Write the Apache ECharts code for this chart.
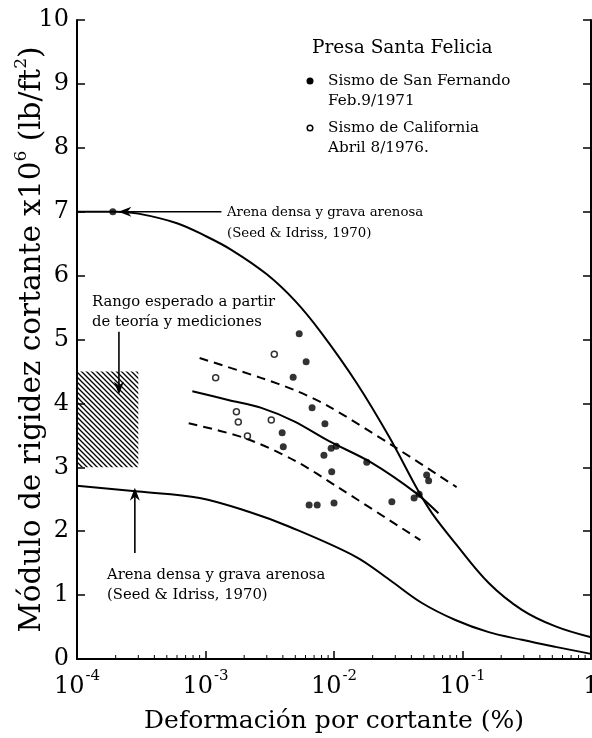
<!DOCTYPE html>
<html>
<head>
<meta charset="utf-8">
<script src="https://cdn.jsdelivr.net/npm/echarts@6/dist/echarts.min.js"></script>
<style>
  html, body { margin: 0; padding: 0; background: #fff; }
  #chart { width: 592px; height: 738px; }
</style>
</head>
<body>
<div id="chart"></div>
<script>
// Shear strain (%) vs shear modulus x10^6 (lb/ft^2) — Presa Santa Felicia

// Seed & Idriss (1970), dense sand and sandy gravel: upper bound
const upperBound = [
  [1e-4, 7.0], [2e-4, 7.0], [3e-4, 6.97], [6e-4, 6.82], [1e-3, 6.62],
  [1.6e-3, 6.4], [3e-3, 6.02], [5e-3, 5.6], [8e-3, 5.1], [1.5e-2, 4.32],
  [2.7e-2, 3.47], [4.5e-2, 2.64], [5.8e-2, 2.28], [8.8e-2, 1.81],
  [0.16, 1.19], [0.29, 0.77], [0.53, 0.51], [1, 0.34]
];
// Seed & Idriss (1970), dense sand and sandy gravel: lower bound
const lowerBound = [
  [1e-4, 2.71], [3e-4, 2.62], [9e-4, 2.52], [2.2e-3, 2.3], [4.5e-3, 2.07],
  [1.48e-2, 1.6], [2.7e-2, 1.24], [4.8e-2, 0.88], [8.8e-2, 0.61],
  [0.16, 0.42], [0.29, 0.3], [0.53, 0.19], [1, 0.08]
];
// fitted trend through the field data and its scatter band
const trendMean = [
  [7.9e-4, 4.19], [1.53e-3, 4.05], [2.72e-3, 3.93], [4.9e-3, 3.72],
  [9.15e-3, 3.41], [1.97e-2, 3.07], [4.33e-2, 2.6], [6.5e-2, 2.28]
];
const trendUpper = [
  [9e-4, 4.71], [2.7e-3, 4.4], [4.9e-3, 4.21], [8.8e-3, 3.97],
  [2.8e-2, 3.35], [9e-2, 2.69]
];
const trendLower = [
  [7.4e-4, 3.69], [2e-3, 3.46], [4.9e-3, 3.11], [1.09e-2, 2.68],
  [4.7e-2, 1.86]
];
// Sismo de San Fernando, Feb. 9/1971
const sanFernando = [
  [5.36e-3, 5.09], [6.07e-3, 4.65], [4.81e-3, 4.41], [6.75e-3, 3.93],
  [8.5e-3, 3.68], [3.95e-3, 3.54], [4.03e-3, 3.32], [9.5e-3, 3.3],
  [1.04e-2, 3.33], [8.35e-3, 3.19], [9.6e-3, 2.93], [1.8e-2, 3.08],
  [6.4e-3, 2.41], [7.4e-3, 2.41], [1.0e-2, 2.44], [2.82e-2, 2.46],
  [4.2e-2, 2.52], [4.6e-2, 2.58], [5.26e-2, 2.88], [5.45e-2, 2.79]
];
// Sismo de California, Abril 8/1976
const california = [
  [3.43e-3, 4.77], [1.2e-3, 4.4], [1.74e-3, 3.87], [1.8e-3, 3.71],
  [3.25e-3, 3.74], [2.12e-3, 3.49]
];
// expected range from theory and measurements: [xMin, xMax, yMin, yMax]
const expectedRange = [1e-4, 3e-4, 3.0, 4.5];
// reference point on the upper bound curve
const markerPoint = [[1.9e-4, 7.0]];
// annotation arrows: [xFrom, yFrom, xTo, yTo]
const arrows = [
  [1.33e-3, 7.0, 2.1e-4, 7.0],
  [2.12e-4, 5.12, 2.12e-4, 4.14],
  [2.82e-4, 1.66, 2.82e-4, 2.68]
];
// tick labels on the strain axis (exponent per decade)
const xTickExponents = ['-4', '-3', '-2', '-1', '0'];
// minor tick multipliers within each decade
const minorMultipliers = [2, 3, 4, 5, 6, 7, 8, 9];
const decades = [1e-4, 1e-3, 1e-2, 1e-1];

const SERIF = '"DejaVu Serif", "Liberation Serif", serif';

function hatchPattern() {
  const s = 5;
  const c = document.createElement('canvas');
  c.width = s; c.height = s;
  const g = c.getContext('2d');
  g.strokeStyle = '#000';
  g.lineWidth = 1.3;
  g.beginPath();
  g.moveTo(0, 0); g.lineTo(s, s);
  g.moveTo(-1, s - 1); g.lineTo(1, s + 1);
  g.moveTo(s - 1, -1); g.lineTo(s + 1, 1);
  g.stroke();
  return c;
}

const minorTicks = [];
decades.forEach(d => minorMultipliers.forEach(m => minorTicks.push([d * m, 0])));

const chart = echarts.init(document.getElementById('chart'), null, { renderer: 'canvas' });

const supRich = {
  b: { fontSize: 24, fontFamily: SERIF, color: '#000', lineHeight: 30, verticalAlign: 'bottom' },
  s: { fontSize: 15, fontFamily: SERIF, color: '#000', lineHeight: 30, verticalAlign: 'top', padding: [0, 0, 0, 1] }
};

function txt(text, x, y, size) {
  return {
    type: 'text', x: x, y: y, silent: true,
    style: { text: text, font: size + 'px ' + SERIF, fill: '#000', verticalAlign: 'middle', align: 'left' }
  };
}

const blackLine = { color: '#000', width: 2 };

chart.setOption({
  animation: false,
  backgroundColor: '#fff',
  grid: { left: 77, right: 1, top: 20, bottom: 79, show: false, containLabel: false, outerBoundsMode: 'none' },
  xAxis: [{
    type: 'log', logBase: 10, min: 1e-4, max: 1,
    position: 'bottom',
    axisLine: { lineStyle: blackLine },
    axisTick: { inside: true, length: 8, lineStyle: { color: '#000', width: 1.5 } },
    splitLine: { show: false },
    axisLabel: {
      margin: 10,
      formatter: function (v) {
        const e = Math.round(Math.log10(v));
        const lab = xTickExponents[e + 4];
        return lab === '0' ? '{b|1}' : '{b|10}{s|' + lab + '}';
      },
      rich: supRich
    },
    name: 'Deformación por cortante (%)',
    nameLocation: 'middle',
    nameGap: 50,
    nameMoveOverlap: false,
    nameTextStyle: { fontFamily: SERIF, fontSize: 25, color: '#000' }
  }, {
    type: 'log', logBase: 10, min: 1e-4, max: 1,
    position: 'top',
    axisLine: { lineStyle: blackLine },
    axisTick: { show: false },
    axisLabel: { show: false },
    splitLine: { show: false }
  }],
  yAxis: [{
    type: 'value', min: 0, max: 10, interval: 1,
    position: 'left',
    axisLine: { lineStyle: blackLine },
    axisTick: { inside: true, length: 8, lineStyle: { color: '#000', width: 1.5 } },
    splitLine: { show: false },
    axisLabel: { fontFamily: SERIF, fontSize: 24, color: '#000', margin: 8 },
    name: '{a|Módulo de rigidez cortante x10}{s|6}{a| (lb/ft}{s|2}{a|)}',
    nameLocation: 'middle',
    nameRotate: 90,
    nameGap: 30,
    nameMoveOverlap: false,
    nameTextStyle: {
      rich: {
        a: { fontFamily: SERIF, fontSize: 29.5, color: '#000', lineHeight: 34, verticalAlign: 'bottom' },
        s: { fontFamily: SERIF, fontSize: 17, color: '#000', lineHeight: 34, verticalAlign: 'top' }
      }
    }
  }, {
    type: 'value', min: 0, max: 10, interval: 1,
    position: 'right',
    axisLine: { lineStyle: blackLine },
    axisTick: { inside: true, length: 8, lineStyle: { color: '#000', width: 1.5 } },
    axisLabel: { show: false },
    splitLine: { show: false }
  }],
  series: [
    {
      type: 'custom', name: 'rango',
      renderItem: function (params, api) {
        const p1 = api.coord([expectedRange[0], expectedRange[3]]);
        const p2 = api.coord([expectedRange[1], expectedRange[2]]);
        return {
          type: 'rect',
          shape: { x: p1[0], y: p1[1], width: p2[0] - p1[0], height: p2[1] - p1[1] },
          style: { fill: { image: hatchPattern(), repeat: 'repeat' }, stroke: null }
        };
      },
      data: [[expectedRange[0], expectedRange[2]]],
      silent: true, z: 1
    },
    {
      type: 'custom', name: 'minor',
      renderItem: function (params, api) {
        const p = api.coord([api.value(0), 0]);
        return {
          type: 'line',
          shape: { x1: p[0], y1: p[1], x2: p[0], y2: p[1] - 4 },
          style: { stroke: '#000', lineWidth: 1 }
        };
      },
      data: minorTicks, silent: true, clip: false
    },
    {
      type: 'custom', name: 'arrows',
      renderItem: function (params, api) {
        const a = api.coord([api.value(0), api.value(1)]);
        const b = api.coord([api.value(2), api.value(3)]);
        const dx = b[0] - a[0], dy = b[1] - a[1];
        const len = Math.sqrt(dx * dx + dy * dy);
        const ux = dx / len, uy = dy / len;
        const px = -uy, py = ux;
        const L = 13, W = 5, N = 9;
        const base = [b[0] - ux * L, b[1] - uy * L];
        const notch = [b[0] - ux * N, b[1] - uy * N];
        return {
          type: 'group',
          children: [
            { type: 'line', shape: { x1: a[0], y1: a[1], x2: notch[0], y2: notch[1] },
              style: { stroke: '#000', lineWidth: 1.6 } },
            { type: 'polygon', shape: { points: [
                b, [base[0] + px * W, base[1] + py * W], notch, [base[0] - px * W, base[1] - py * W]
              ] }, style: { fill: '#000' } }
          ]
        };
      },
      data: arrows, silent: true, clip: false, z: 5
    },
    { type: 'line', data: upperBound, smooth: 0.35, showSymbol: false, lineStyle: { color: '#000', width: 2 }, z: 3 },
    { type: 'line', data: lowerBound, smooth: 0.35, showSymbol: false, lineStyle: { color: '#000', width: 2 }, z: 3 },
    { type: 'line', data: trendMean, smooth: 0.3, showSymbol: false, lineStyle: { color: '#000', width: 2 }, z: 3 },
    { type: 'line', data: trendUpper, smooth: 0.3, showSymbol: false, lineStyle: { color: '#000', width: 2, type: [9, 6] }, z: 3 },
    { type: 'line', data: trendLower, smooth: 0.3, showSymbol: false, lineStyle: { color: '#000', width: 2, type: [9, 6] }, z: 3 },
    { type: 'scatter', name: 'Sismo de San Fernando', data: sanFernando, symbol: 'circle', symbolSize: 7,
      itemStyle: { color: '#000' }, z: 4 },
    { type: 'scatter', name: 'Sismo de California', data: california, symbol: 'circle', symbolSize: 6,
      itemStyle: { color: '#fff', borderColor: '#000', borderWidth: 1.5 }, z: 4 },
    { type: 'scatter', data: markerPoint, symbol: 'circle', symbolSize: 7, itemStyle: { color: '#000' }, z: 4 }
  ],
  graphic: [
    txt('Presa Santa Felicia', 312, 48, 18.5),
    { type: 'circle', shape: { cx: 310, cy: 81, r: 3.5 }, style: { fill: '#000' }, silent: true },
    txt('Sismo de San Fernando', 328, 81, 15.2),
    txt('Feb.9/1971', 328, 101, 15.2),
    { type: 'circle', shape: { cx: 310, cy: 128, r: 2.8 }, style: { fill: '#fff', stroke: '#000', lineWidth: 1.5 }, silent: true },
    txt('Sismo de California', 328, 128, 15.2),
    txt('Abril 8/1976.', 328, 148, 15.2),
    txt('Arena densa y grava arenosa', 227, 213, 13.3),
    txt('(Seed & Idriss, 1970)', 227, 234, 13.3),
    txt('Rango esperado a partir', 92, 302, 14.8),
    txt('de teoría y mediciones', 92, 322, 14.8),
    txt('Arena densa y grava arenosa', 107, 575, 14.8),
    txt('(Seed & Idriss, 1970)', 107, 595, 14.8)
  ]
});
</script>
</body>
</html>
